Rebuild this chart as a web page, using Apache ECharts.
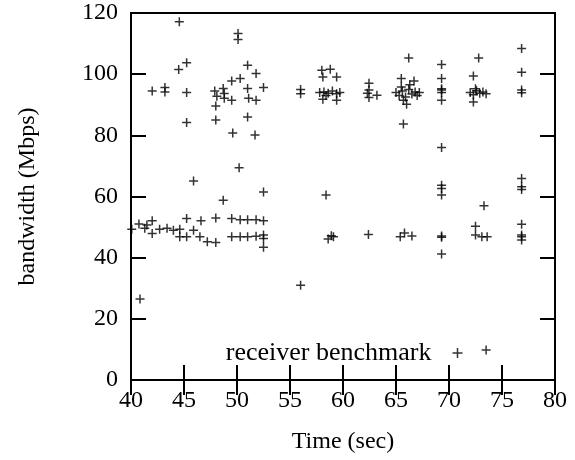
<!DOCTYPE html>
<html>
<head>
<meta charset="utf-8">
<script src="https://cdn.jsdelivr.net/npm/echarts@6/dist/echarts.min.js"></script>
<style>
  html, body { margin: 0; padding: 0; background: #fff; }
  #chart { width: 575px; height: 460px; }
</style>
</head>
<body>
<div id="chart"></div>
<script>
// time (sec) and bandwidth (Mbps) of each receiver sample
var timeSec = [
  44.56, 50.1, 50.1, 45.25, 44.5, 51.0, 51.8, 50.3, 49.5, 52.5,
  42.0, 43.2, 43.2, 45.25, 47.9, 48.7, 48.8, 48.1, 48.8, 49.5,
  51.0, 51.1, 51.8, 48.0, 45.25, 48.0, 51.0, 49.6, 51.7, 50.2,
  45.9, 52.5, 48.7,
  40.75, 41.5, 42.0, 45.25, 46.6, 48.0, 49.5, 50.3, 51.0, 51.8, 52.5,
  40.07, 41.3, 42.0, 42.7, 43.4, 44.0, 44.6, 44.6, 45.25, 45.9,
  46.5, 47.2, 48.0, 49.5, 50.3, 51.0, 51.8, 52.5, 52.5, 52.5, 40.85,
  56.0, 56.0, 56.0, 58.0, 58.8, 58.1, 59.4,
  57.8, 58.2, 58.6, 59.0, 59.4, 59.7, 58.1, 59.4, 58.4,
  58.4, 58.6, 59.1, 58.9,
  62.45, 62.45, 62.45, 63.2, 62.3, 62.4,
  66.2, 65.5, 66.7, 65.0, 65.3, 65.6, 65.9, 66.2, 66.5, 66.8, 67.0,
  65.7, 66.0, 65.7, 66.3, 65.5, 67.2, 65.4, 65.8, 66.5,
  69.3, 69.3, 69.3, 69.3, 69.3, 69.3, 69.3, 69.3, 69.3, 69.3, 69.3, 69.3, 69.3,
  72.8, 72.3, 72.0, 72.3, 72.6, 72.9, 73.2, 73.5, 72.3, 72.5,
  73.3, 72.5, 72.5, 73.1, 73.6, 73.5,
  76.85, 76.85, 76.85, 76.85, 76.85, 76.85, 76.85, 76.85, 76.85, 76.85, 76.85
];
var bandwidth = [
  117.1, 113.3, 111.3, 103.7, 101.5, 102.9, 100.2, 98.6, 97.8, 95.6,
  94.5, 95.6, 94.2, 94.0, 94.5, 95.3, 93.7, 92.8, 92.1, 91.5,
  95.3, 92.1, 91.5, 89.6, 84.2, 85.0, 86.0, 80.8, 80.1, 69.4,
  65.1, 61.5, 58.8,
  51.0, 50.7, 52.1, 52.8, 52.1, 53.0, 52.8, 52.4, 52.4, 52.4, 52.1,
  49.3, 49.6, 47.9, 49.3, 49.6, 49.0, 49.3, 46.8, 46.8, 49.0,
  46.8, 45.2, 45.0, 46.8, 46.8, 46.8, 47.0, 47.4, 46.3, 43.4, 26.5,
  95.0, 93.6, 31.0, 101.3, 101.6, 99.1, 99.1,
  94.0, 94.2, 93.8, 94.5, 93.6, 94.0, 91.8, 91.5, 93.0,
  60.5, 46.1, 46.8, 47.2,
  97.0, 94.8, 92.4, 93.1, 93.8, 47.6,
  105.3, 98.6, 97.8, 94.0, 93.0, 94.5, 92.5, 95.0, 93.5, 94.2, 93.0,
  91.5, 90.2, 83.7, 96.5, 95.8, 94.0, 46.8, 48.1, 47.1,
  103.2, 98.6, 94.8, 94.0, 95.2, 91.5, 76.0, 63.7, 62.6, 60.5, 47.1, 46.7, 41.2,
  105.3, 99.4, 94.0, 93.3, 94.6, 93.8, 94.2, 93.6, 90.9, 95.2,
  57.0, 50.3, 47.4, 46.8, 46.8, 9.8,
  108.4, 100.6, 94.8, 93.9, 65.9, 63.2, 62.3, 50.9, 47.4, 46.8, 45.8
];
var xTicks = { min: 40, max: 80, step: 5 };
var yTicks = { min: 0, max: 120, step: 20 };

var points = timeSec.map(function (t, i) { return [t, bandwidth[i]]; });

var font = 'Liberation Serif, Times New Roman, serif';
var fontSize = 24;
var plus = 'path://M0,5 L10,5 M5,0 L5,10';

// 向内刻度（外框由 grid 边框画）
function frame() {
  return { show: true, lineStyle: { color: '#000', width: 2 } };
}
function ticks() {
  return { show: true, inside: true, length: 15, lineStyle: { color: '#000', width: 2 } };
}

var chart = echarts.init(document.getElementById('chart'));
chart.setOption({
  animation: false,
  backgroundColor: '#fff',
  grid: {
    left: 131, right: 20, top: 13, bottom: 80,
    show: true, borderColor: '#000', borderWidth: 2, backgroundColor: 'transparent'
  },
  legend: {
    right: 105,
    top: 335,
    align: 'right',
    icon: plus,
    itemWidth: 10,
    itemHeight: 10,
    itemStyle: { color: 'none', borderColor: '#000', borderWidth: 1.5 },
    textStyle: { fontFamily: font, fontSize: 26, color: '#000', padding: [0, 16, 0, 0] },
    data: ['receiver benchmark']
  },
  xAxis: [{
    type: 'value', min: xTicks.min, max: xTicks.max, interval: xTicks.step,
    name: 'Time (sec)', nameLocation: 'middle', nameGap: 50,
    nameTextStyle: { fontFamily: font, fontSize: fontSize, color: '#000' },
    axisLine: frame(), axisTick: ticks(), splitLine: { show: false },
    axisLabel: { fontFamily: font, fontSize: fontSize, color: '#000', margin: 9 }
  }, {
    type: 'value', position: 'top', min: xTicks.min, max: xTicks.max, interval: xTicks.step,
    axisLine: frame(), axisTick: ticks(), splitLine: { show: false }, axisLabel: { show: false }
  }],
  yAxis: [{
    type: 'value', min: yTicks.min, max: yTicks.max, interval: yTicks.step,
    name: 'bandwidth (Mbps)', nameLocation: 'middle', nameGap: 91, nameRotate: 90,
    nameTextStyle: { fontFamily: font, fontSize: fontSize, color: '#000' },
    axisLine: frame(), axisTick: ticks(), splitLine: { show: false },
    axisLabel: { fontFamily: font, fontSize: fontSize, color: '#000', margin: 13 }
  }, {
    type: 'value', position: 'right', min: yTicks.min, max: yTicks.max, interval: yTicks.step,
    axisLine: frame(), axisTick: ticks(), splitLine: { show: false }, axisLabel: { show: false }
  }],
  series: [{
    name: 'receiver benchmark',
    type: 'scatter',
    data: points,
    symbol: plus,
    symbolSize: 9,
    itemStyle: { color: 'none', borderColor: '#000', borderWidth: 1.5 },
    emphasis: { disabled: true }
  }]
});
</script>
</body>
</html>
